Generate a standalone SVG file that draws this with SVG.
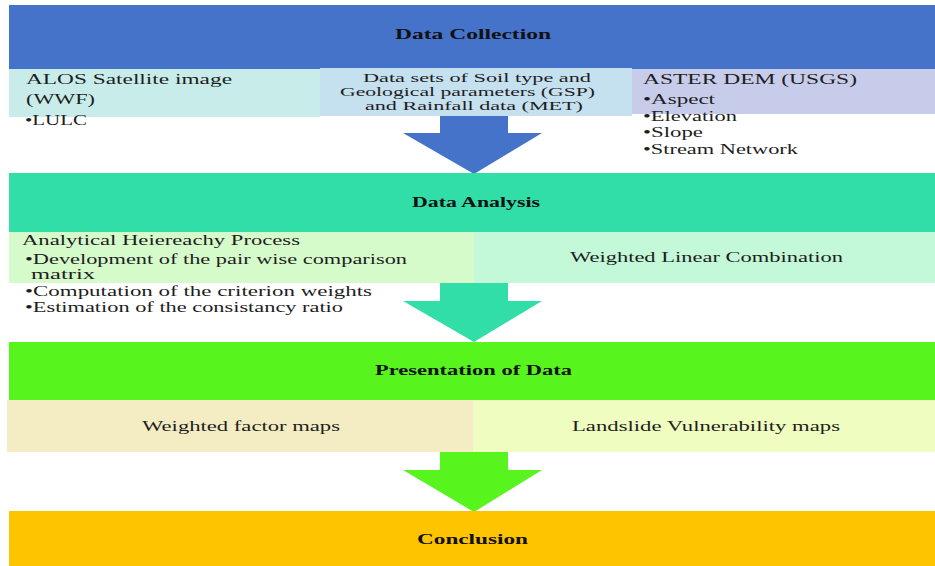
<svg xmlns="http://www.w3.org/2000/svg" width="935" height="566" viewBox="0 0 935 566">
<style>
.t{font-family:'Liberation Serif','DejaVu Serif','Times New Roman',serif;font-size:15px;fill:#1e1e1e}
.m{font-family:'Liberation Serif','DejaVu Serif','Times New Roman',serif;font-size:13px;fill:#1e1e1e}
.h{font-family:'Liberation Serif','DejaVu Serif','Times New Roman',serif;font-size:14px;font-weight:bold;fill:#111}
</style>
<rect width="935" height="566" fill="#ffffff"/>
<g id="connectors">
<polygon points="440,116 508,116 508,133 542,133 474,174 403,133 440,133" fill="#4673CA"/>
<polygon points="440,283 508,283 508,301 542,301 474,342 403,301 440,301" fill="#32DEA8"/>
<polygon points="440,452 508,452 508,470 542,470 474,512 403,470 440,470" fill="#57F41E"/>
</g>
<g id="data-collection">
<rect x="9" y="5" width="926" height="64" fill="#4673CA"/>
<text class="h" x="395" y="39" textLength="156" lengthAdjust="spacingAndGlyphs">Data Collection</text>
</g>
<g id="alos">
<rect x="9" y="69" width="311" height="48" fill="#C8ECEA"/>
<text class="t" x="26" y="84" textLength="206" lengthAdjust="spacingAndGlyphs">ALOS Satellite image</text>
<text class="t" x="26" y="104" textLength="69" lengthAdjust="spacingAndGlyphs">(WWF)</text>
<text class="t" x="25" y="125" textLength="62" lengthAdjust="spacingAndGlyphs">•LULC</text>
</g>
<g id="soil-geology-rainfall">
<rect x="320" y="68" width="312" height="48" fill="#C5E0EF"/>
<text class="m" x="363" y="82" textLength="228" lengthAdjust="spacingAndGlyphs">Data sets of Soil type and</text>
<text class="m" x="340" y="96" textLength="255" lengthAdjust="spacingAndGlyphs">Geological parameters  (GSP)</text>
<text class="m" x="365" y="110" textLength="218" lengthAdjust="spacingAndGlyphs">and Rainfall data (MET)</text>
</g>
<g id="aster-dem">
<rect x="632" y="69" width="303" height="45" fill="#C7CCEB"/>
<text class="t" x="643" y="84" textLength="214" lengthAdjust="spacingAndGlyphs">ASTER DEM (USGS)</text>
<text class="t" x="643" y="104" textLength="72" lengthAdjust="spacingAndGlyphs">•Aspect</text>
<text class="t" x="643" y="121" textLength="94" lengthAdjust="spacingAndGlyphs">•Elevation</text>
<text class="t" x="643" y="137" textLength="60" lengthAdjust="spacingAndGlyphs">•Slope</text>
<text class="t" x="643" y="154" textLength="155" lengthAdjust="spacingAndGlyphs">•Stream Network</text>
</g>
<g id="data-analysis">
<rect x="9" y="173" width="926" height="59" fill="#32DEA8"/>
<text class="h" x="412" y="207" textLength="128" lengthAdjust="spacingAndGlyphs">Data Analysis</text>
</g>
<g id="ahp">
<rect x="9" y="232" width="465" height="51" fill="#D6FBCB"/>
<text class="t" x="22" y="245" textLength="278" lengthAdjust="spacingAndGlyphs">Analytical Heiereachy Process</text>
<text class="t" x="25" y="264" textLength="382" lengthAdjust="spacingAndGlyphs">•Development of the pair wise comparison</text>
<text class="t" x="31" y="279" textLength="64" lengthAdjust="spacingAndGlyphs">matrix</text>
<text class="t" x="25" y="296" textLength="347" lengthAdjust="spacingAndGlyphs">•Computation of the criterion weights</text>
<text class="t" x="25" y="312" textLength="318" lengthAdjust="spacingAndGlyphs">•Estimation of the consistancy ratio</text>
</g>
<g id="wlc">
<rect x="474" y="232" width="461" height="51" fill="#C3F8D8"/>
<text class="t" x="570" y="262" textLength="273" lengthAdjust="spacingAndGlyphs">Weighted Linear Combination</text>
</g>
<g id="presentation">
<rect x="9" y="342" width="926" height="58" fill="#57F41E"/>
<text class="h" x="375" y="375" textLength="197" lengthAdjust="spacingAndGlyphs">Presentation of Data</text>
</g>
<g id="weighted-factor-maps">
<rect x="7" y="400" width="466" height="52" fill="#F4ECC3"/>
<text class="t" x="142" y="431" textLength="198" lengthAdjust="spacingAndGlyphs">Weighted factor maps</text>
</g>
<g id="vulnerability-maps">
<rect x="473" y="400" width="462" height="52" fill="#EFFDC1"/>
<text class="t" x="572" y="431" textLength="268" lengthAdjust="spacingAndGlyphs">Landslide Vulnerability maps</text>
</g>
<g id="conclusion">
<rect x="9" y="511" width="926" height="55" fill="#FFC400"/>
<text class="h" x="417" y="544" textLength="111" lengthAdjust="spacingAndGlyphs">Conclusion</text>
</g>
</svg>
